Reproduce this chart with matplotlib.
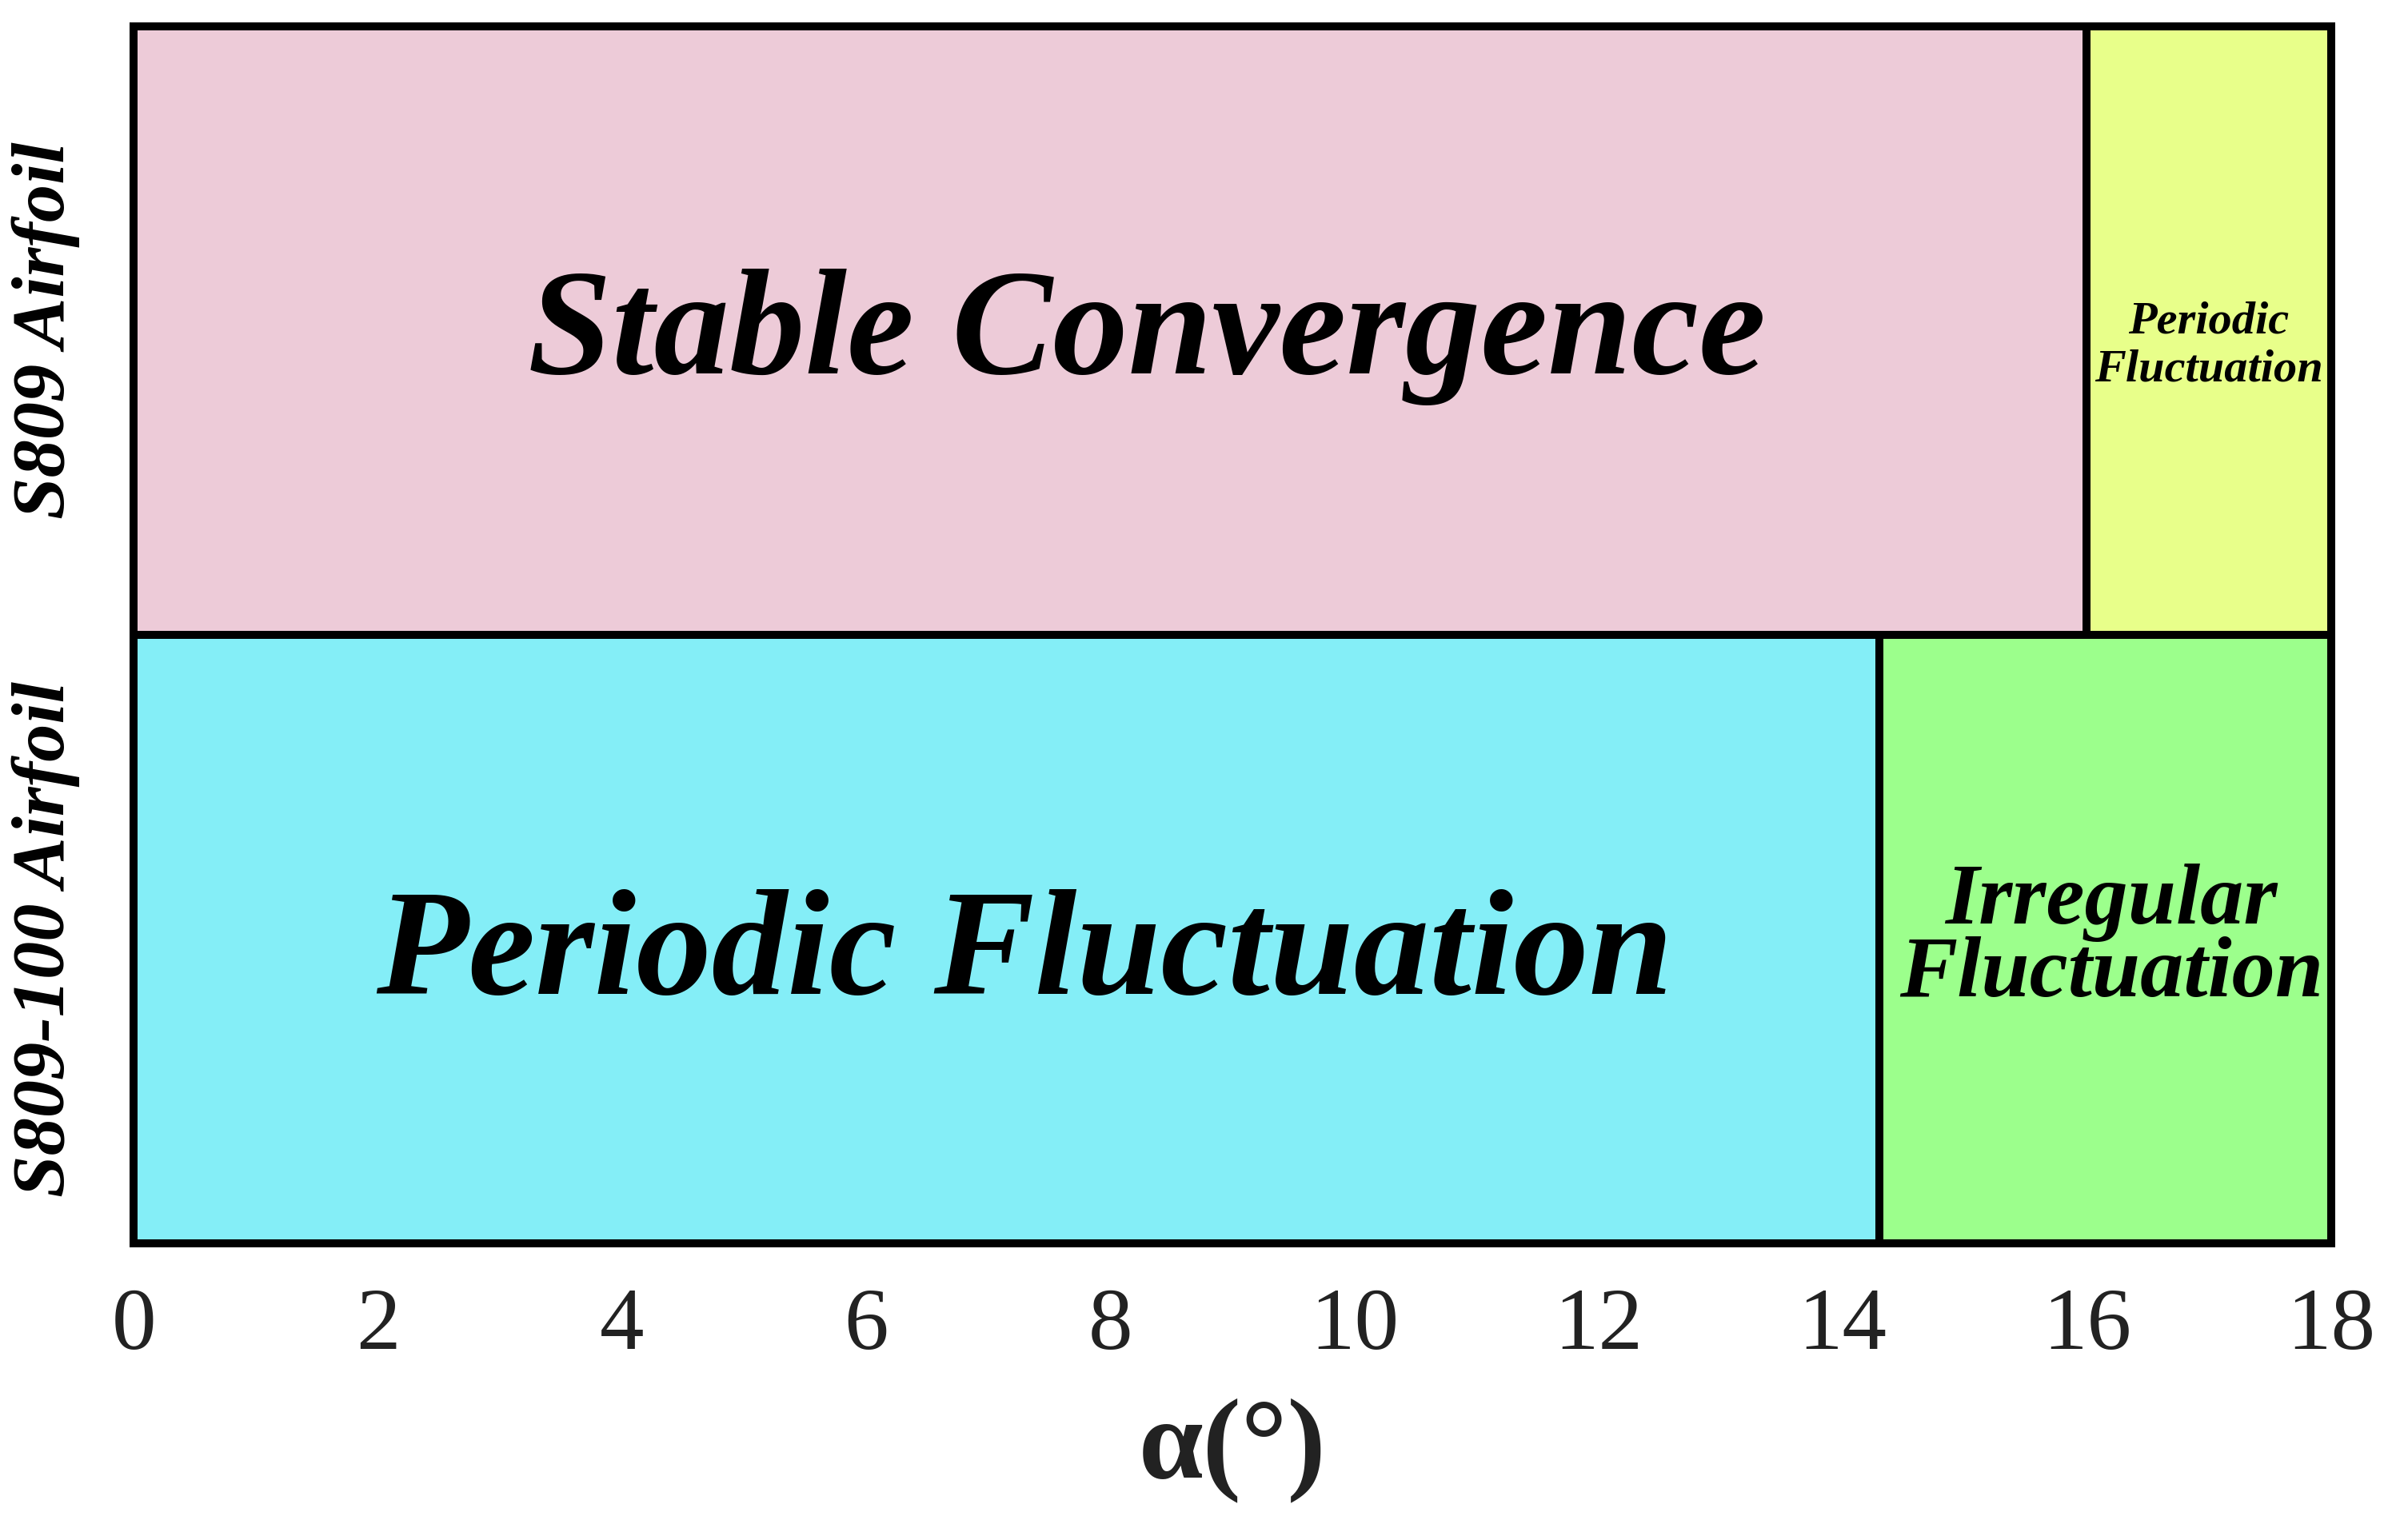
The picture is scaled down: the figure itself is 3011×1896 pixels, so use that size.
import matplotlib
matplotlib.use("Agg")
import matplotlib.pyplot as plt

# regime map: each airfoil row split into angle-of-attack ranges
airfoils = ["S809-100 Airfoil", "S809 Airfoil"]
s809_starts = [0, 16]
s809_widths = [16, 2]
s809_labels = ["Stable Convergence", "Periodic\nFluctuation"]
s809_colors = ["#edcbd8", "#e8ff8a"]
s809100_starts = [0, 14.3]
s809100_widths = [14.3, 3.7]
s809100_labels = ["Periodic Fluctuation", "Irregular\nFluctuation"]
s809100_colors = ["#84eef7", "#9cff8c"]
xticks = [0, 2, 4, 6, 8, 10, 12, 14, 16, 18]

label_sizes_top = [68, 21]
label_sizes_bot = [68, 39]

fig = plt.figure(figsize=(15.055, 9.48), dpi=200)
ax = fig.add_axes([0.0555, 0.180, 0.9125, 0.8026])

lw = 3.6
ax.barh([1] * 2, s809_widths, left=s809_starts, height=1, color=s809_colors,
        edgecolor="black", linewidth=lw)
ax.barh([0] * 2, s809100_widths, left=s809100_starts, height=1, color=s809100_colors,
        edgecolor="black", linewidth=lw)

serif = "Liberation Serif"
for s, w, lab, fs in zip(s809_starts, s809_widths, s809_labels, label_sizes_top):
    xc = s + w / 2 if w < 5 else 8.3
    yc = 0.975 if w < 5 else 0.99
    ax.text(xc, yc, lab, ha="center", va="center", fontsize=fs, family=serif,
            fontweight="bold", style="italic", linespacing=1.2)
for s, w, lab, fs in zip(s809100_starts, s809100_widths, s809100_labels, label_sizes_bot):
    xc = s + w / 2 + 0.05 if w < 5 else 7.3
    yc = 0.0 if w < 5 else -0.03
    ax.text(xc, yc, lab, ha="center", va="center", fontsize=fs, family=serif,
            fontweight="bold", style="italic", linespacing=0.9)

ax.set_xlim(0, 18)
ax.set_ylim(-0.5, 1.5)
ax.set_xticks(xticks)
ax.set_xticklabels([str(t) for t in xticks], fontsize=40, family=serif, color="#222222")
ax.set_yticks([0, 1])
ax.set_yticklabels(airfoils, rotation=90, va="center", fontsize=34, family=serif,
                   fontweight="bold", style="italic")
ax.tick_params(axis="both", length=0)
ax.tick_params(axis="x", pad=20)
ax.tick_params(axis="y", pad=24)
ax.set_xlabel("α(°)", fontsize=52, family=serif, fontweight="bold", color="#222222",
              labelpad=14)

for sp in ax.spines.values():
    sp.set_linewidth(lw)

fig.savefig("out.png", dpi=200)
